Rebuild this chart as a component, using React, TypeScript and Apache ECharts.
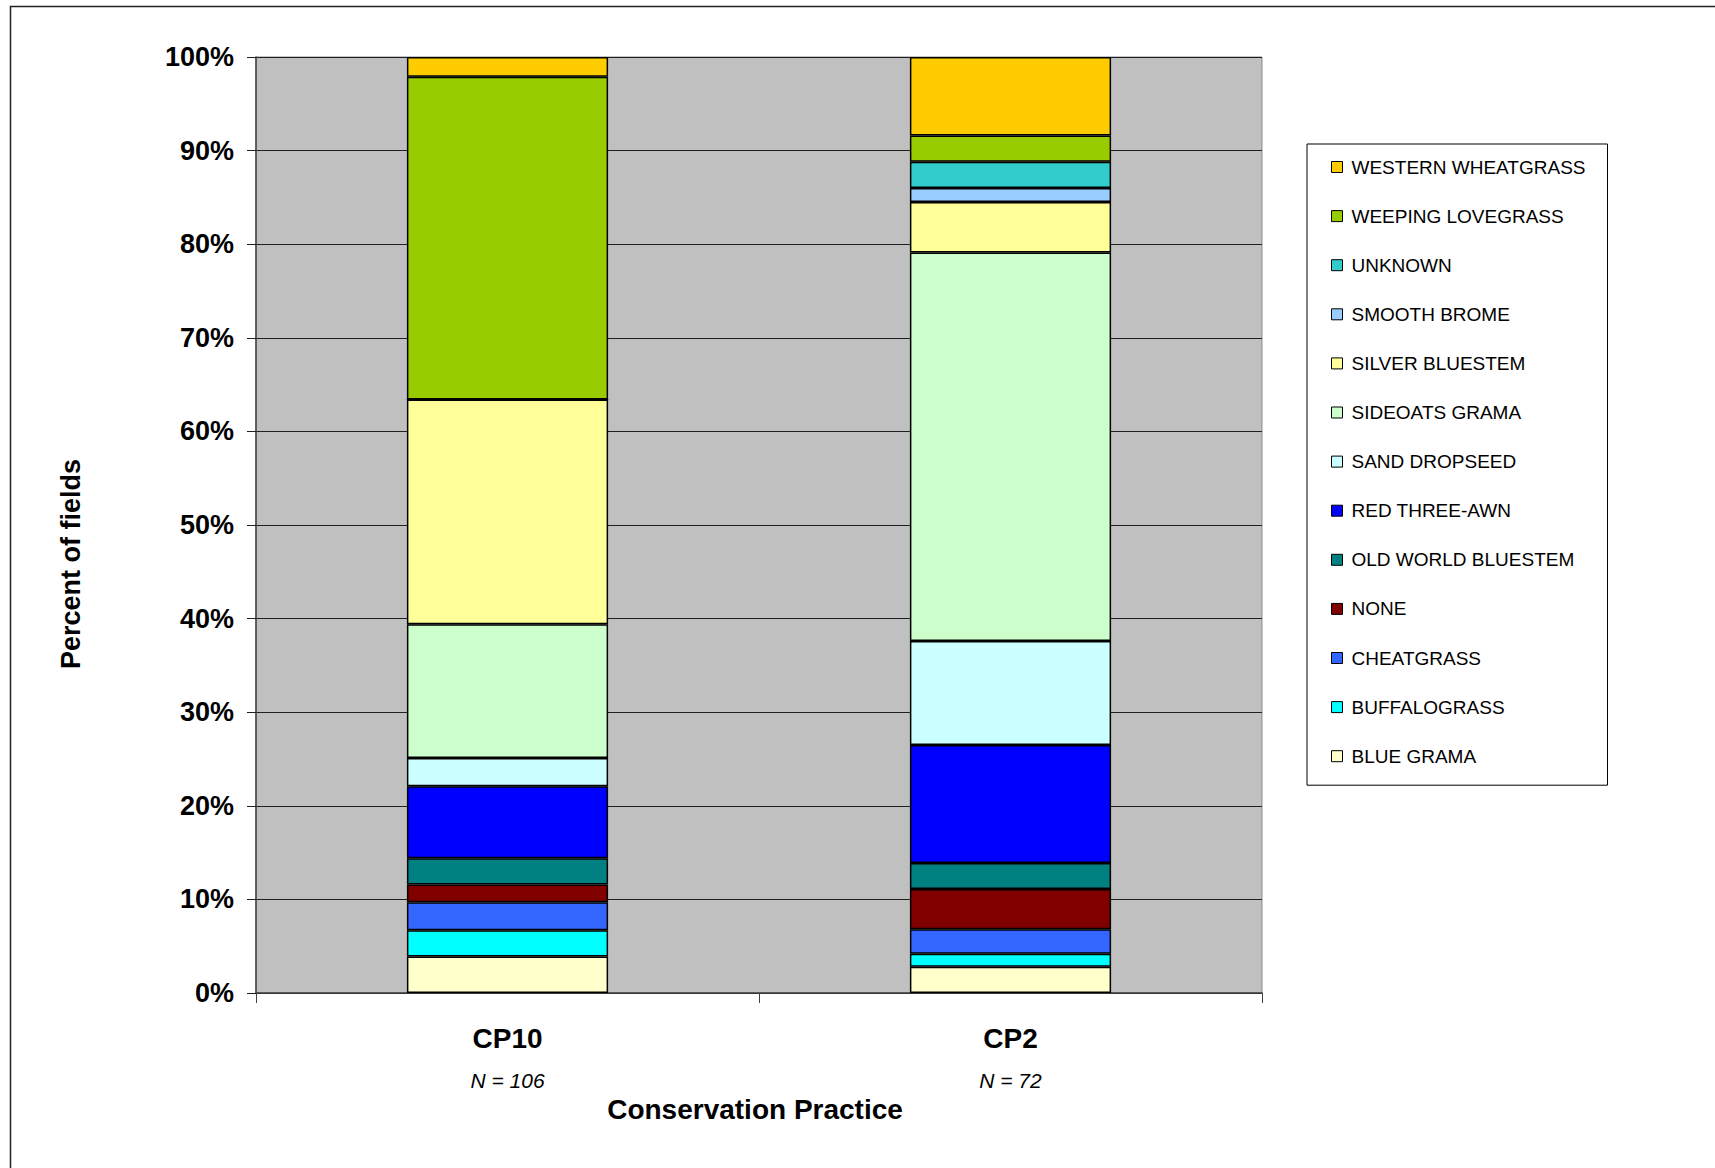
import React, { useEffect, useRef } from "react";
import * as echarts from "echarts";

const categories = ["CP10", "CP2"];
const sampleSizes = ["N = 106", "N = 72"];

// Stack order: bottom to top
const species = [
  "BLUE GRAMA",
  "BUFFALOGRASS",
  "CHEATGRASS",
  "NONE",
  "OLD WORLD BLUESTEM",
  "RED THREE-AWN",
  "SAND DROPSEED",
  "SIDEOATS GRAMA",
  "SILVER BLUESTEM",
  "SMOOTH BROME",
  "UNKNOWN",
  "WEEPING LOVEGRASS",
  "WESTERN WHEATGRASS",
];

const colors = [
  "#FFFFCC",
  "#00FFFF",
  "#3366FF",
  "#800000",
  "#008080",
  "#0000FF",
  "#CCFFFF",
  "#CCFFCC",
  "#FFFF99",
  "#99CCFF",
  "#33CCCC",
  "#99CC00",
  "#FFCC00",
];

// Percent of fields, same order as species
const cp10Values = [3.9, 2.8, 3.0, 1.9, 2.8, 7.7, 3.0, 14.3, 24.0, 0, 0, 34.5, 2.1];
const cp2Values = [2.8, 1.4, 2.6, 4.3, 2.8, 12.6, 11.1, 41.5, 5.4, 1.5, 2.8, 2.8, 8.4];

const yTicks = { min: 0, max: 100, interval: 10 };

const FONT = "'Liberation Sans', Arial, sans-serif";

export default function App() {
  const ref = useRef<HTMLDivElement>(null);

  useEffect(() => {
    if (!ref.current) return;
    const chart = echarts.init(ref.current, undefined, { renderer: "svg" });

    const series = species.map((name, i) => ({
      name,
      type: "bar",
      stack: "total",
      barWidth: "40%",
      data: [cp10Values[i], cp2Values[i]],
      itemStyle: { color: colors[i], borderColor: "#000", borderWidth: 1.5 },
      emphasis: { disabled: true },
    }));

    chart.setOption({
      animation: false,
      textStyle: { fontFamily: FONT },
      graphic: [
        {
          type: "rect",
          left: 8,
          top: 4,
          shape: { width: 1800, height: 1250 },
          style: { fill: "none", stroke: "#222", lineWidth: 1.5 },
          silent: true,
        },
      ],
      grid: {
        left: 256,
        top: 57,
        width: 1006,
        height: 936,
        show: true,
        backgroundColor: "#C0C0C0",
        borderColor: "#8a8a8a",
        borderWidth: 1,
      },
      legend: {
        orient: "vertical",
        left: 1307,
        top: 144,
        data: [...species].reverse(),
        padding: [13, 22, 19, 24],
        itemGap: 29.1,
        itemWidth: 11,
        itemHeight: 11,
        icon: "rect",
        backgroundColor: "#fff",
        borderColor: "#000",
        borderWidth: 1,
        selectedMode: false,
        itemStyle: { borderColor: "#000", borderWidth: 1 },
        textStyle: {
          fontFamily: FONT,
          fontSize: 19,
          lineHeight: 20,
          color: "#000",
          padding: [0, 0, 0, 4],
        },
      },
      xAxis: {
        type: "category",
        data: categories,
        name: "Conservation Practice",
        nameLocation: "middle",
        nameGap: 94,
        nameTextStyle: {
          fontFamily: FONT,
          fontSize: 28,
          fontWeight: "bold",
          color: "#000",
          padding: [0, 8, 0, 0],
        },
        axisLine: { show: true, lineStyle: { color: "#404040", width: 1.5 } },
        axisTick: { show: true, length: 10, lineStyle: { color: "#404040" } },
        axisLabel: {
          margin: 23,
          formatter: (v: string, idx: number) => `{a|${v}}\n{b|${sampleSizes[idx]}}`,
          rich: {
            a: { fontFamily: FONT, fontSize: 28, fontWeight: "bold", color: "#000", lineHeight: 44 },
            b: { fontFamily: FONT, fontSize: 21, fontStyle: "italic", color: "#000", lineHeight: 41 },
          },
        },
      },
      yAxis: {
        type: "value",
        min: yTicks.min,
        max: yTicks.max,
        interval: yTicks.interval,
        name: "Percent of fields",
        nameLocation: "middle",
        nameGap: 172,
        nameTextStyle: {
          fontFamily: FONT,
          fontSize: 27,
          fontWeight: "bold",
          color: "#000",
          padding: [0, 78, 0, 0],
        },
        axisLine: { show: true, lineStyle: { color: "#404040", width: 1.5 } },
        axisTick: { show: true, length: 9, lineStyle: { color: "#202020" } },
        axisLabel: {
          margin: 22,
          formatter: "{value}%",
          fontFamily: FONT,
          fontSize: 27,
          fontWeight: "bold",
          color: "#000",
        },
        splitLine: { show: true, lineStyle: { color: "#202020", width: 1 } },
      },
      series,
    });

    return () => chart.dispose();
  }, []);

  return (
    <div
      ref={ref}
      style={{ position: "absolute", left: 0, top: 0, width: 1715, height: 1168, background: "#fff" }}
    />
  );
}
